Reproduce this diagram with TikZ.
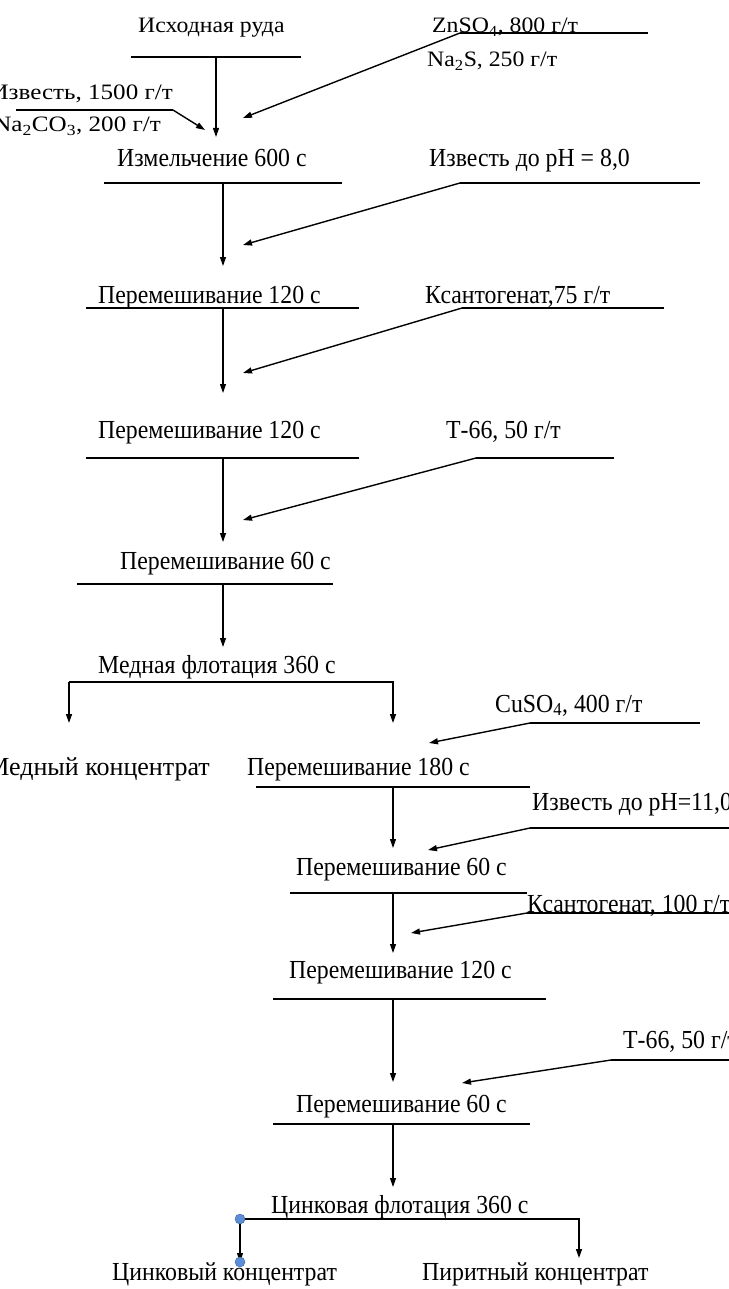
\documentclass[tikz,border=0pt]{standalone}
\usepackage{fontspec}
\setmainfont{Liberation Serif}
\usepackage{graphicx}
\usetikzlibrary{arrows.meta}
\newcommand{\sx}[1]{\scalebox{0.915}[1]{#1}}
\newcommand{\sy}[1]{\scalebox{1.08}[1]{#1}}
\newcommand{\sz}[1]{\scalebox{1.14}[1]{#1}}
\definecolor{handleblue}{HTML}{5B8ED6}
\tikzset{
 lbl/.style={inner sep=0pt, font=\fontsize{26}{30}\selectfont, anchor=base west},
 lble/.style={lbl, anchor=base east},
 sml/.style={inner sep=0pt, font=\fontsize{22}{26}\selectfont, anchor=base west},
 smle/.style={sml, anchor=base east},
 bar/.style={line width=1.6pt},
 flow/.style={line width=1.1pt, -{Stealth[length=9pt,width=6pt,inset=0pt]}},
 feed/.style={line width=1.4pt, -{Stealth[length=9pt,width=6pt,inset=0pt]}},
 handle/.style={circle, fill=handleblue, draw=handleblue!70!black, line width=0.4pt, inner sep=0pt, minimum size=10pt}
}
\begin{document}
\begin{tikzpicture}[x=1pt,y=-1pt]
\useasboundingbox (0,0) rectangle (728,1289);
% ---------- texts ----------
\node[sml]  (t0)   at (138,33)  {\sy{Исходная руда}};
\node[sml]  (zn)   at (432,33)  {\sy{ZnSO\textsubscript{4}, 800 г/т}};
\node[sml]  (nas)  at (427,67)  {\sy{Na\textsubscript{2}S, 250 г/т}};
\node[smle] (izv1) at (173,100) {\sz{Известь, 1500 г/т}};
\node[smle] (naco) at (161,132) {\sz{Na\textsubscript{2}CO\textsubscript{3}, 200 г/т}};
\node[lbl]  (t1)   at (117,167) {\sx{Измельчение 600 с}};
\node[lbl]  (ph8)  at (429,167) {\sx{Известь до рН = 8,0}};
\node[lbl]  (t2)   at (98,303)  {\sx{Перемешивание 120 с}};
\node[lbl]  (ks1)  at (425,303) {\sx{Ксантогенат,75 г/т}};
\node[lbl]  (t3)   at (98,438)  {\sx{Перемешивание 120 с}};
\node[lbl]  (tt1)  at (446,438) {\sx{Т-66, 50 г/т}};
\node[lbl]  (t4)   at (120,569) {\sx{Перемешивание 60 с}};
\node[lbl]  (t5)   at (98,673)  {\sx{Медная флотация 360 с}};
\node[lbl]  (cu)   at (495,712) {\sx{CuSO\textsubscript{4}, 400 г/т}};
\node[lble] (mk)   at (210,775) {Медный концентрат};
\node[lbl]  (t6)   at (247,775) {\sx{Перемешивание 180 с}};
\node[lbl]  (ph11) at (532,810) {\sx{Известь до рН=11,0}};
\node[lbl]  (t7)   at (296,875) {\sx{Перемешивание 60 с}};
\node[lbl]  (ks2)  at (527,912) {\sx{Ксантогенат, 100 г/т}};
\node[lbl]  (t8)   at (289,978) {\sx{Перемешивание 120 с}};
\node[lbl]  (tt2)  at (623,1048){\sx{Т-66, 50 г/т}};
\node[lbl]  (t9)   at (296,1112){\sx{Перемешивание 60 с}};
\node[lbl]  (t10)  at (271,1213){\sx{Цинковая флотация 360 с}};
\node[lbl]  (zk)   at (112,1280){\sx{Цинковый концентрат}};
\node[lbl]  (pk)   at (422,1280){\sx{Пиритный концентрат}};
% ---------- coordinates ----------
\coordinate (b0l) at (131,57);  \coordinate (b0r) at (301,57);  \coordinate (b0m) at (216,57);
\coordinate (znl) at (460,33);  \coordinate (znr) at (648,33);
\coordinate (izl) at (16,110);  \coordinate (izr) at (173,110);
\coordinate (a1)  at (216,137); \coordinate (a1z) at (243,118); \coordinate (a1i) at (205,130);
\coordinate (b1l) at (104,183); \coordinate (b1r) at (342,183); \coordinate (b1m) at (223,183);
\coordinate (p8l) at (460,183); \coordinate (p8r) at (700,183);
\coordinate (a2)  at (223,266); \coordinate (a2f) at (243,245);
\coordinate (b2l) at (86,308);  \coordinate (b2r) at (359,308); \coordinate (b2m) at (223,308);
\coordinate (k1l) at (462,308); \coordinate (k1r) at (664,308);
\coordinate (a3)  at (223,393); \coordinate (a3f) at (243,373);
\coordinate (b3l) at (86,458);  \coordinate (b3r) at (359,458); \coordinate (b3m) at (223,458);
\coordinate (tal) at (476,458); \coordinate (tar) at (614,458);
\coordinate (a4)  at (223,542); \coordinate (a4f) at (243,520);
\coordinate (b4l) at (77,584);  \coordinate (b4r) at (333,584); \coordinate (b4m) at (223,584);
\coordinate (a5)  at (223,647);
\coordinate (b5l) at (69,682);  \coordinate (b5r) at (393,682);
\coordinate (a5l) at (69,723);  \coordinate (a5r) at (393,723);
\coordinate (cul) at (530,723); \coordinate (cur) at (700,723); \coordinate (a6f) at (429,743);
\coordinate (b6l) at (256,787); \coordinate (b6r) at (530,787); \coordinate (b6m) at (393,787);
\coordinate (a7)  at (393,848);
\coordinate (p11l) at (530,828); \coordinate (p11r) at (730,828); \coordinate (a7f) at (428,850);
\coordinate (b7l) at (290,893); \coordinate (b7r) at (527,893); \coordinate (b7m) at (393,893);
\coordinate (k2l) at (527,913); \coordinate (k2r) at (730,913); \coordinate (a8f) at (411,933);
\coordinate (a8)  at (393,953);
\coordinate (b8l) at (273,999); \coordinate (b8r) at (546,999); \coordinate (b8m) at (393,999);
\coordinate (a9)  at (393,1082);
\coordinate (tbl) at (611,1060); \coordinate (tbr) at (730,1060); \coordinate (a9f) at (462,1083);
\coordinate (b9l) at (273,1124); \coordinate (b9r) at (530,1124); \coordinate (b9m) at (393,1124);
\coordinate (a10) at (393,1187);
\coordinate (b10l) at (240,1219); \coordinate (b10r) at (579,1219);
\coordinate (a10l) at (240,1262); \coordinate (a10r) at (579,1258);
% ---------- bars ----------
\draw[bar] (b0l) -- (b0r);
\draw[bar] (znl) -- (znr);
\draw[bar] (izl) -- (izr);
\draw[bar] (b1l) -- (b1r);
\draw[bar] (p8l) -- (p8r);
\draw[bar] (b2l) -- (b2r);
\draw[bar] (k1l) -- (k1r);
\draw[bar] (b3l) -- (b3r);
\draw[bar] (tal) -- (tar);
\draw[bar] (b4l) -- (b4r);
\draw[bar] (cul) -- (cur);
\draw[bar] (b6l) -- (b6r);
\draw[bar] (p11l) -- (p11r);
\draw[bar] (b7l) -- (b7r);
\draw[bar] (k2l) -- (k2r);
\draw[bar] (b8l) -- (b8r);
\draw[bar] (tbl) -- (tbr);
\draw[bar] (b9l) -- (b9r);
% ---------- flow arrows ----------
\draw[flow] (b0m) -- (a1);
\draw[feed] (znl) -- (a1z);
\draw[feed] (izr) -- (a1i);
\draw[flow] (b1m) -- (a2);
\draw[feed] (p8l) -- (a2f);
\draw[flow] (b2m) -- (a3);
\draw[feed] (k1l) -- (a3f);
\draw[flow] (b3m) -- (a4);
\draw[feed] (tal) -- (a4f);
\draw[flow] (b4m) -- (a5);
\draw[flow, line width=1.4pt] (b5l) -- (b5r) -- (a5r);
\draw[flow, line width=1.4pt] (b5l) -- (a5l);
\draw[feed] (cul) -- (a6f);
\draw[flow] (b6m) -- (a7);
\draw[feed] (p11l) -- (a7f);
\draw[flow] (b7m) -- (a8);
\draw[feed] (k2l) -- (a8f);
\draw[flow] (b8m) -- (a9);
\draw[feed] (tbl) -- (a9f);
\draw[flow] (b9m) -- (a10);
\draw[flow, line width=1.4pt] (b10l) -- (b10r) -- (a10r);
\draw[flow] (b10l) -- (a10l);
% ---------- selection handles ----------
\node[handle] (h1) at (b10l) {};
\node[handle] (h2) at (a10l) {};
\end{tikzpicture}
\end{document}
